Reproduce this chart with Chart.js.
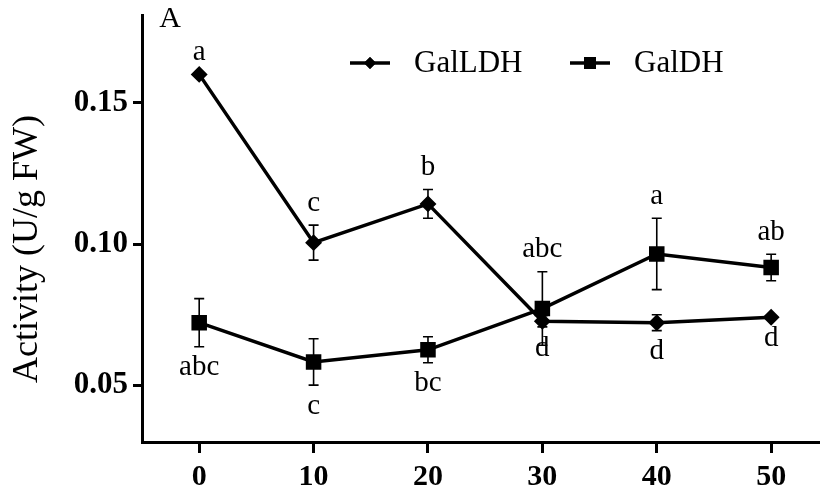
<!DOCTYPE html>
<html>
<head>
<meta charset="utf-8">
<script src="https://cdn.jsdelivr.net/npm/chart.js@4.4.0/dist/chart.umd.min.js"></script>
<style>
  html, body { margin: 0; padding: 0; background: #fff; }
  #wrap { width: 820px; height: 492px; }
</style>
</head>
<body>
<div id="wrap"><canvas id="chart" width="820" height="492"></canvas></div>
<script>
// ------------------ DATA ------------------
const days = [0, 10, 20, 30, 40, 50];
const xTicks = [0, 10, 20, 30, 40, 50];
const yTicks = [0.05, 0.10, 0.15];

const galldhMean = [0.160, 0.1005, 0.1142, 0.0727, 0.0722, 0.0741];
const galldhErr = [0, 0.0062, 0.0051, 0.002, 0.0028, 0];
const galldhLetters = ['a', 'c', 'b', 'd', 'd', 'd'];

const galdhMean = [0.0722, 0.0583, 0.0626, 0.0772, 0.0965, 0.0917];
const galdhErr = [0.0085, 0.0082, 0.0046, 0.013, 0.0126, 0.0047];
const galdhLetters = ['abc', 'c', 'bc', 'abc', 'a', 'ab'];

const SERIF = '"Liberation Serif", "Times New Roman", serif';

// no extra room for tick labels, the plot area is fixed by layout padding
function noPad(s) {
    s.paddingLeft = 0; s.paddingRight = 0; s.paddingTop = 0; s.paddingBottom = 0;
}

// ------------------ PLUGINS ------------------
const errorBars = {
    id: 'errorBars',
    afterDatasetsDraw(chart) {
        const ctx = chart.ctx;
        const x = chart.scales.x, y = chart.scales.y;
        ctx.save();
        ctx.strokeStyle = '#000';
        ctx.lineWidth = 1.6;
        chart.data.datasets.forEach(ds => {
            ds.data.forEach((p, i) => {
                const e = ds.err[i];
                if (!e) return;
                const px = x.getPixelForValue(p.x);
                const top = y.getPixelForValue(p.y + e);
                const bot = y.getPixelForValue(p.y - e);
                ctx.beginPath();
                ctx.moveTo(px, top); ctx.lineTo(px, bot);
                ctx.moveTo(px - 5, top); ctx.lineTo(px + 5, top);
                ctx.moveTo(px - 5, bot); ctx.lineTo(px + 5, bot);
                ctx.stroke();
            });
        });
        ctx.restore();
    }
};

const letters = {
    id: 'letters',
    afterDraw(chart) {
        const ctx = chart.ctx;
        const x = chart.scales.x, y = chart.scales.y;
        ctx.save();
        ctx.fillStyle = '#000';
        ctx.font = '29px ' + SERIF;
        ctx.textAlign = 'center';
        ctx.textBaseline = 'middle';
        chart.data.datasets.forEach(ds => {
            ds.data.forEach((p, i) => {
                const px = x.getPixelForValue(p.x);
                const e = ds.err[i];
                if (ds.letterPos[i] === 'up') {
                    ctx.fillText(ds.letters[i], px, y.getPixelForValue(p.y + e) - 22);
                } else {
                    ctx.fillText(ds.letters[i], px, y.getPixelForValue(p.y - e) + 21);
                }
            });
        });

        // panel label
        ctx.font = '30px ' + SERIF;
        ctx.textAlign = 'center';
        ctx.fillText('A', 170, 19);

        // y axis title
        ctx.save();
        ctx.translate(28, 249);
        ctx.rotate(-Math.PI / 2);
        ctx.font = '36px ' + SERIF;
        ctx.fillText('Activity (U/g FW)', 0, 0);
        ctx.restore();

        // legend
        const items = [
            { ds: chart.data.datasets[0], x0: 350 },
            { ds: chart.data.datasets[1], x0: 570 }
        ];
        ctx.font = '31px ' + SERIF;
        ctx.textAlign = 'left';
        items.forEach(it => {
            const ly = 63;
            ctx.lineWidth = 3.5;
            ctx.strokeStyle = '#000';
            ctx.beginPath();
            ctx.moveTo(it.x0, ly); ctx.lineTo(it.x0 + 40, ly);
            ctx.stroke();
            Chart.helpers.drawPoint(ctx, {
                pointStyle: it.ds.pointStyle,
                radius: it.ds.pointRadius,
                borderWidth: 0
            }, it.x0 + 20, ly);
            ctx.fill();
            ctx.fillText(it.ds.label, it.x0 + 64, ly + 1);
        });
        ctx.restore();
    }
};

// ------------------ CHART ------------------
const ctx = document.getElementById('chart').getContext('2d');
new Chart(ctx, {
    type: 'line',
    data: {
        datasets: [{
            label: 'GalLDH',
            data: days.map((d, i) => ({ x: d, y: galldhMean[i] })),
            err: galldhErr,
            letters: galldhLetters,
            letterPos: ['up', 'up', 'up', 'down', 'down', 'down'],
            borderColor: '#000',
            backgroundColor: '#000',
            borderWidth: 3.5,
            pointStyle: 'rectRot',
            pointRadius: 6,
            tension: 0,
            clip: false
        }, {
            label: 'GalDH',
            data: days.map((d, i) => ({ x: d, y: galdhMean[i] })),
            err: galdhErr,
            letters: galdhLetters,
            letterPos: ['down', 'down', 'down', 'up', 'up', 'up'],
            borderColor: '#000',
            backgroundColor: '#000',
            borderWidth: 3.5,
            pointStyle: 'rect',
            pointRadius: 8.5,
            tension: 0,
            clip: false
        }]
    },
    options: {
        responsive: false,
        animation: false,
        layout: { autoPadding: false, padding: { top: 15, right: 0, left: 0, bottom: 0 } },
        plugins: { legend: { display: false }, tooltip: { enabled: false } },
        scales: {
            x: {
                type: 'linear',
                min: -5,
                max: 54.27,
                afterBuildTicks: s => { s.ticks = xTicks.map(v => ({ value: v })); },
                afterFit: s => { s.height = 50; noPad(s); },
                border: { display: true, color: '#000', width: 3 },
                grid: { drawOnChartArea: false, drawTicks: true, tickLength: 11, color: '#000', lineWidth: 3 },
                ticks: {
                    color: '#000',
                    padding: 6,
                    maxRotation: 0,
                    font: { family: SERIF, size: 30, weight: 'bold' },
                    callback: v => String(v)
                }
            },
            y: {
                type: 'linear',
                min: 0.03,
                max: 0.181,
                afterBuildTicks: s => { s.ticks = yTicks.map(v => ({ value: v })); },
                afterFit: s => { s.width = 142; noPad(s); },
                border: { display: true, color: '#000', width: 3 },
                grid: { drawOnChartArea: false, drawTicks: true, tickLength: 9, color: '#000', lineWidth: 3 },
                ticks: {
                    color: '#000',
                    padding: 5,
                    font: { family: SERIF, size: 31, weight: 'bold' },
                    callback: v => v.toFixed(2)
                }
            }
        }
    },
    plugins: [errorBars, letters]
});
</script>
</body>
</html>
